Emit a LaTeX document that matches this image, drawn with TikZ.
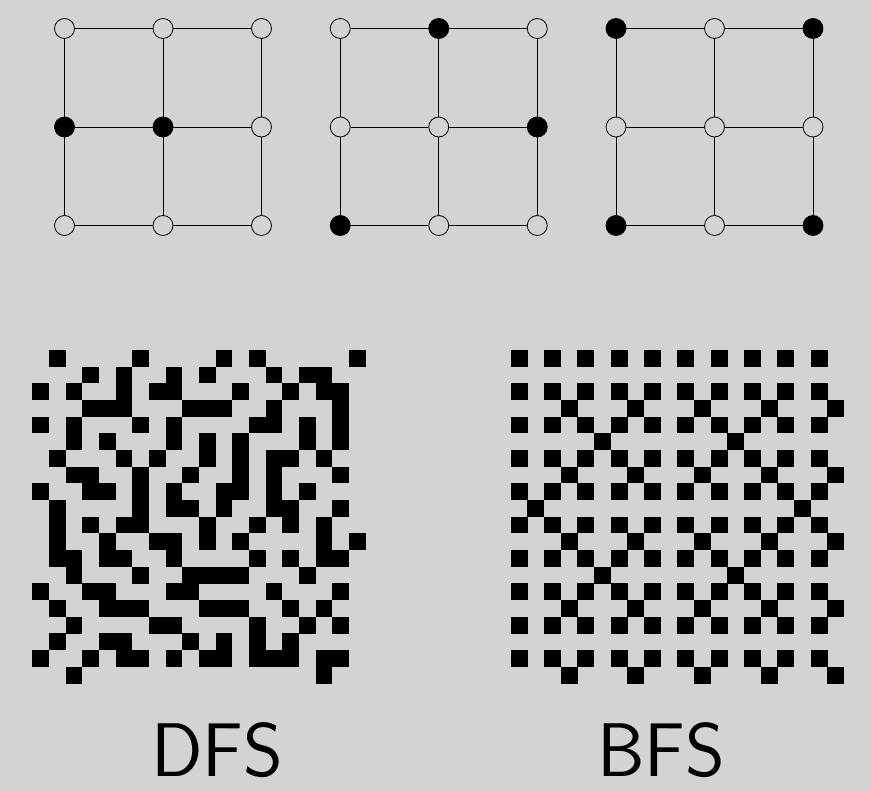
\documentclass[tikz,border=0pt]{standalone}
\usepackage{tikz}
\definecolor{bggray}{RGB}{211,211,211}

\begin{document}
\begin{tikzpicture}[x=1pt,y=-1pt]
		\tikzset{vertex/.style={circle,draw=black,fill=bggray,line width=0.8pt,minimum size=20pt,inner sep=0pt}};
		\tikzset{v001/.style={fill=black},v011/.style={fill=black},
			v110/.style={fill=black},v121/.style={fill=black},v102/.style={fill=black},
			v200/.style={fill=black},v220/.style={fill=black},v202/.style={fill=black},v222/.style={fill=black}};
		\tikzset{cell/.style={fill=black}};
		\tikzset{caption/.style={font=\sffamily\fontsize{76}{80}\selectfont,inner sep=0pt,anchor=base}};
		\fill[bggray] (0,0) rectangle (871,791);
		
		% three small grids
		\foreach \p in {0,1,2}
			\foreach \i in {0,1,2}
				\foreach \j in {0,1,2}
					\node[vertex,v\p\i\j/.try] (v\p\i\j) at ({64.5+275.75*\p+98.5*\i},{28.5+98.5*\j}) {};
		\foreach \p in {0,1,2}
			\foreach \i in {0,1,2} {
				\draw[line width=0.8pt] (v\p\i0) -- (v\p\i1) -- (v\p\i2);
				\draw[line width=0.8pt] (v\p0\i) -- (v\p1\i) -- (v\p2\i);
			}
		
		% DFS
		\foreach \r/\cols in {0/{1,6,11,13,19},1/{3,5,8,10,14,16,17},2/{0,2,5,7,8,12,15,17,18},
			3/{3,4,5,9,10,11,14,18},4/{0,2,6,8,13,14,16,18},5/{2,4,8,10,12,16,18},
			6/{1,5,7,10,12,14,15,17},7/{2,3,6,9,12,14,18},8/{0,3,4,6,8,11,12,14,16},
			9/{1,6,8,9,11,14,15,18},10/{1,3,5,6,10,13,15,17},11/{1,4,7,8,10,12,17,19},
			12/{1,2,4,5,8,13,15,17,18},13/{2,6,9,10,11,12,16},14/{0,3,4,8,9,14,18},
			15/{1,4,5,6,10,11,12,15,17},16/{2,7,8,13,16,18},17/{1,4,5,9,11,13,15},
			18/{0,3,5,6,8,10,11,13,14,15,17,18},19/{2,17}}
			\foreach \c in \cols
				\fill[cell] ({32.3+16.67*\c},{350+16.67*\r}) rectangle ++(16.8,16.8);
		
		% BFS
		\foreach \r/\cols in {0/{0,2,...,18},2/{0,2,...,18},3/{3,7,11,15,19},4/{0,2,...,18},
			5/{5,13},6/{0,2,...,18},7/{3,7,11,15,19},8/{0,2,...,18},9/{1,17},
			10/{0,2,...,18},11/{3,7,11,15,19},12/{0,2,...,18},13/{5,13},14/{0,2,...,18},
			15/{3,7,11,15,19},16/{0,2,...,18},18/{0,2,...,18},19/{3,7,11,15,19}}
			\foreach \c in \cols
				\fill[cell] ({510.7+16.67*\c},{350+16.67*\r}) rectangle ++(16.8,16.8);
		
		\node[caption] (dfs) at (217,776) {DFS};
		\node[caption] (bfs) at (661,776) {BFS};
	\end{tikzpicture}
\end{document}
